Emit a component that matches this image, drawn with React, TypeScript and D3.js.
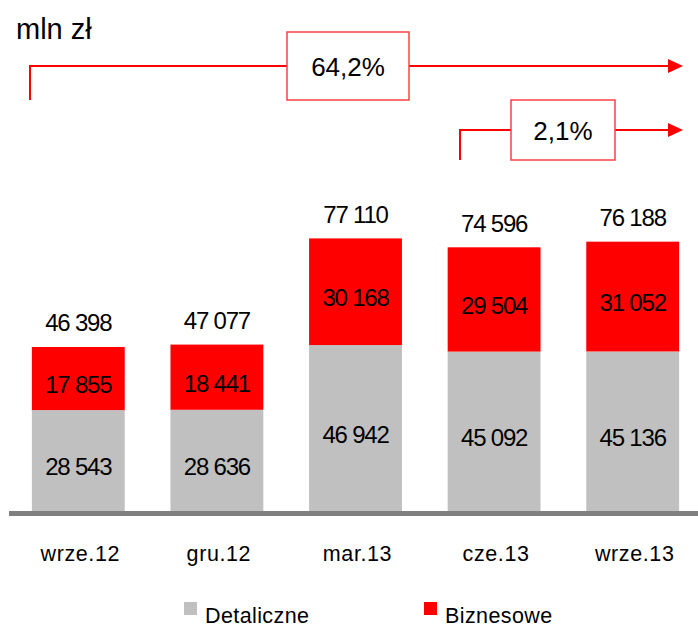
import React from 'react';
import * as d3 from 'd3';

const categories = ['wrze.12', 'gru.12', 'mar.13', 'cze.13', 'wrze.13'];
const detaliczne = [28543, 28636, 46942, 45092, 45136];
const biznesowe = [17855, 18441, 30168, 29504, 31052];
const totals = [46398, 47077, 77110, 74596, 76188];
const seriesNames = ['Detaliczne', 'Biznesowe'];
const seriesColors = ['#C0C0C0', '#FF0000'];
const growthLabels = ['64,2%', '2,1%'];

const fmt = (v: number) => d3.format(',')(v).replace(/,/g, ' ');

const W = 698;
const H = 627;
const base = 511;
const font = '"Liberation Sans", Arial, sans-serif';

const App: React.FC = () => {
  const x = d3.scaleBand<string>()
    .domain(categories)
    .range([9, 702])
    .paddingInner(0.33)
    .paddingOuter(0.165);

  const y = d3.scaleLinear()
    .domain([0, 80000])
    .range([base, base - 282.8]);

  const rows = categories.map((c, i) => ({ cat: c, Detaliczne: detaliczne[i], Biznesowe: biznesowe[i] }));
  const stack = d3.stack<any>().keys(seriesNames)(rows);

  const arrow = (x0: number, x1: number, ly: number, drop: number) => (
    <g>
      <path d={`M${x0},${ly + drop}V${ly}H${x1 - 14}`} fill="none" stroke="#FF0000" strokeWidth={2} />
      <path d={`M${x1 - 15},${ly - 7}L${x1},${ly}L${x1 - 15},${ly + 7}Z`} fill="#FF0000" />
    </g>
  );

  const box = (bx: number, by: number, bw: number, bh: number, label: string) => (
    <g>
      <rect x={bx} y={by} width={bw} height={bh} fill="#fff" stroke="#FF4040" strokeWidth={1.5} />
      <text x={bx + bw / 2} y={by + bh / 2 + 1} textAnchor="middle" dominantBaseline="central"
        fontSize={26} fontFamily={font} fill="#000">{label}</text>
    </g>
  );

  return (
    <svg width={W} height={H} style={{ position: 'absolute', left: 0, top: 0, background: '#fff' }}>
      <text x={16} y={39} fontSize={29} fontFamily={font} fill="#000">mln zł</text>

      {arrow(30, 683, 66, 34)}
      {box(287, 32, 122, 68, growthLabels[0])}
      {arrow(460, 683, 130, 30)}
      {box(511, 100, 104, 60, growthLabels[1])}

      {stack.map((s, si) => (
        <g key={s.key}>
          {s.map((d, i) => (
            <g key={i}>
              <rect x={x(categories[i])} y={y(d[1])} width={x.bandwidth()} height={y(d[0]) - y(d[1])}
                fill={seriesColors[si]} />
              <text x={x(categories[i])! + x.bandwidth() / 2} y={(y(d[0]) + y(d[1])) / 2 + 6}
                textAnchor="middle" dominantBaseline="central" fontSize={24} letterSpacing={-1.2}
                fontFamily={font} fill="#000">{fmt(d[1] - d[0])}</text>
            </g>
          ))}
        </g>
      ))}

      {totals.map((t, i) => (
        <text key={i} x={x(categories[i])! + x.bandwidth() / 2} y={y(t) - 24}
          textAnchor="middle" dominantBaseline="central" fontSize={24} letterSpacing={-1.2}
          fontFamily={font} fill="#000">{fmt(t)}</text>
      ))}

      <rect x={9} y={base} width={W - 9} height={5} fill="#808080" />

      {categories.map((c, i) => (
        <text key={c} x={x(c)! + x.bandwidth() / 2 + 2} y={561} textAnchor="middle"
          fontSize={21.5} letterSpacing={0.6} fontFamily={font} fill="#000">{c}</text>
      ))}

      {seriesNames.map((n, i) => (
        <g key={n} transform={`translate(${i === 0 ? 184 : 424},0)`}>
          <rect x={0} y={602} width={13} height={13} fill={seriesColors[i]} />
          <text x={21} y={623} fontSize={21.5} letterSpacing={0.4} fontFamily={font} fill="#000">{n}</text>
        </g>
      ))}
    </svg>
  );
};

export default App;
